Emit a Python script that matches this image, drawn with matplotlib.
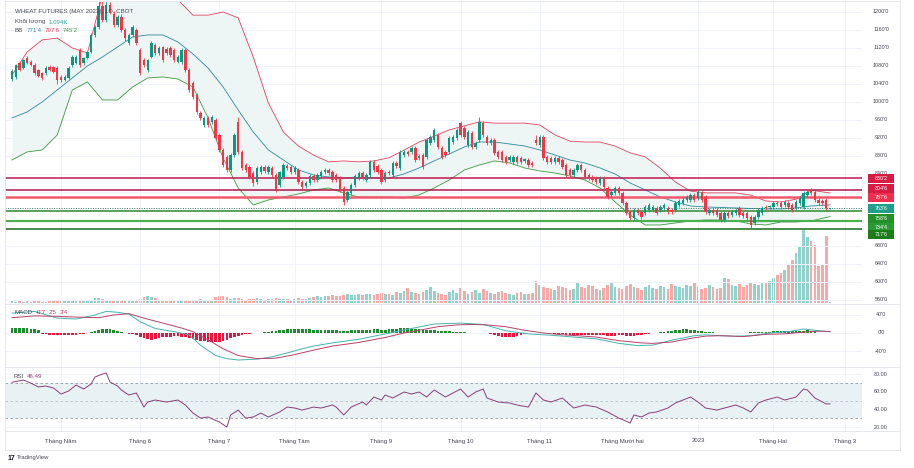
import numpy as np
import matplotlib
matplotlib.use("Agg")
import matplotlib.pyplot as plt
from matplotlib.patches import Rectangle
from matplotlib.lines import Line2D
import matplotlib.transforms as mtransforms

# ---------------- data ----------------
opens = [1051,1056,1087,1076,1098,1089,1082,1071,1064,1064,
         1078,1078,1076,1056,1049,1053,1082,1087,1116,1087,
         1098,1111,1149,1167,1213,1182,1216,1196,1171,1189,
         1160,1131,1149,1160,1116,1093,1071,1100,1127,1109,
         1122,1118,1120,1116,1089,1089,1116,1071,1042,1016,
         976,949,964,956,960,927,893,878,849,882,
         956,889,860,856,842,822,844,856,844,853,
         838,816,833,858,856,844,849,822,813,820,
         836,827,836,844,849,844,838,831,809,782,
         798,816,831,842,827,838,867,858,849,827,
         844,838,864,853,882,889,889,898,876,882,
         878,909,916,927,898,889,889,911,920,953,
         942,904,931,900,916,953,922,909,916,889,
         889,878,871,867,878,876,869,871,864,916,
         904,922,878,876,867,876,871,860,849,838,
         849,860,849,838,833,831,820,831,809,793,
         798,809,798,776,756,742,760,756,753,760,
         760,764,760,764,764,760,760,771,776,782,
         782,793,787,798,789,753,760,760,753,738,
         753,749,753,764,753,753,744,731,744,753,
         767,767,767,776,776,771,776,771,764,776,
         767,793,804,800,782,780,782,763.25]
highs = [1073,1085,1090,1096,1102,1093,1086,1074,1067,1079,
         1082,1081,1079,1060,1060,1079,1104,1104,1120,1100,
         1114,1153,1171,1228,1224,1232,1222,1202,1193,1195,
         1164,1153,1172,1164,1120,1097,1096,1136,1131,1124,
         1125,1122,1124,1119,1104,1119,1120,1075,1046,1020,
         980,968,968,970,964,931,897,882,886,931,
         967,893,864,860,846,857,860,860,860,857,
         842,847,864,862,860,857,853,826,824,840,
         840,842,848,853,853,848,842,835,813,804,
         820,840,846,846,842,871,871,862,853,846,
         848,868,868,893,893,893,902,902,884,886,
         920,926,942,931,902,893,924,926,942,958,
         946,937,935,913,967,957,926,920,920,893,
         893,882,882,882,882,880,876,875,868,927,
         926,926,882,880,880,880,875,864,853,853,
         864,864,853,842,837,835,835,835,813,804,
         813,813,802,780,760,764,764,760,771,775,
         771,768,771,775,768,764,780,784,786,793,
         797,797,804,802,793,764,764,764,757,757,
         757,760,764,768,757,757,748,748,764,768,
         771,772,780,780,780,782,780,775,782,791,
         802,806,808,804,786,784,786,765]
lows = [1046,1052,1068,1073,1084,1079,1060,1055,1049,1060,
        1068,1064,1040,1044,1046,1051,1078,1084,1078,1082,
        1095,1108,1145,1162,1178,1178,1195,1166,1167,1155,
        1136,1126,1145,1127,1060,1078,1066,1097,1104,1105,
        1089,1105,1100,1088,1086,1085,1067,1022,1006,974,
        960,945,945,952,916,889,856,845,845,878,
        885,849,845,829,813,818,840,843,840,834,
        800,812,829,849,840,840,818,807,809,816,
        823,823,832,840,838,823,823,800,771,778,
        794,812,827,827,823,834,845,840,818,823,
        838,834,853,849,878,880,885,867,872,852,
        874,905,912,896,874,878,885,907,916,923,
        918,900,896,896,912,923,905,905,883,874,
        867,863,867,863,863,863,865,856,856,905,
        900,872,863,863,863,863,852,834,834,834,
        845,845,829,827,823,818,816,807,785,789,
        794,794,772,749,738,738,749,740,749,756,
        756,749,756,760,752,752,756,767,772,778,
        778,778,783,778,752,749,749,745,734,734,
        743,745,749,745,743,738,720,727,740,749,
        760,763,763,769,763,767,763,756,760,772,
        763,789,793,778,772,772,760,762]
closes = [1069,1082,1071,1093,1087,1082,1064,1058,1053,1076,
          1071,1067,1049,1049,1056,1076,1100,1100,1082,1098,
          1111,1149,1167,1213,1182,1216,1200,1171,1189,1160,
          1142,1149,1167,1131,1064,1082,1093,1131,1109,1120,
          1093,1109,1104,1093,1100,1116,1071,1027,1011,978,
          964,964,949,967,920,893,860,849,882,927,
          889,853,849,833,820,853,856,847,856,838,
          804,844,860,853,844,853,822,811,820,836,
          827,838,844,849,842,827,827,804,778,800,
          816,836,842,831,838,867,849,844,822,842,
          842,864,858,889,889,884,898,871,880,856,
          916,922,938,900,878,882,920,922,938,927,
          922,933,900,909,956,927,909,916,887,878,
          871,867,878,878,867,867,873,860,860,909,
          922,876,867,867,876,867,856,838,838,849,
          860,849,833,831,827,822,831,811,789,800,
          809,798,776,753,742,760,753,744,767,771,
          767,753,767,771,756,756,776,780,782,789,
          793,782,800,782,756,760,753,749,738,753,
          747,756,760,749,747,742,727,744,760,764,
          764,769,776,773,767,778,767,760,778,787,
          798,800,798,782,776,776,763.5,763.75]
volumes_k = [2.5,2,3,2,2.5,2,3,2.5,2,2,3,
             3.5,4.5,3,3,3.5,4,3,5,3.5,4,5,
             7,8,6,
             4,5,4.5,3.5,4,5,4,3.5,5,6,
             9,10.5,9,8,
             4,5,3.5,4,3,4,3.5,4.5,5,4,5,6,4,3.5,5,
             9,10.5,10.5,9,
             6,7,7.5,6,5,5.5,6,7,6,5,6,6.5,7,6,5.5,6,5,6.5,7.5,6,6.5,
             8,9,10.5,9,10,11,12,10.5,11,12,
             13,12,12.5,13.5,12,13,14,12,13.5,15,13,14,12,
             16.5,15,18,22.5,17,15,13.5,16,19.5,24,18,15,13.5,12,16.5,19.5,15,22.5,
             18,14,16.5,19.5,15,21,18,15,13.5,16.5,18,15,13.5,12,15,16.5,13.5,14,
             15,33,27,24,22.5,21,19.5,25.5,24,22.5,19.5,21,
             30,24,22.5,27,25.5,21,19.5,22.5,27,30,24,22.5,21,25.5,28.5,24,22.5,19.5,24,
             27,22.5,21,25.5,24,21,28.5,25.5,24,22.5,27,25.5,30,24,21,22.5,27,24,21,
             22.5,37.5,36,27,25.5,28.5,24,27,30,28.5,27,30,
             30,33,37.5,42,45,49.5,57,64.5,75,85.5,109.5,99,93,87,55.5,57,100.5,1.094]

# Bollinger Bands (20, 2)
bb_idx = [0,4,8,12,16,20,24,28,32,36,40,44,48,52,56,60,64,68,72,76,80,84,88,92,96,100,
          104,108,112,116,120,124,128,132,136,140,144,148,152,156,160,164,168,172,176,180,
          184,188,192,196,200,204,208,212,217]
bb_upper = [1060,1111,1138,1142,1120,1109,1238,1316,1338,1327,1293,1227,1193,1193,1200,1187,1100,998,
            933,902,882,867,869,867,869,876,893,911,924,938,947,956,953,953,953,949,927,913,911,911,
            902,887,878,853,822,802,798,798,798,793,780,778,784,804,797.75]
bb_basis = [964.5,977.8,1000,1026.7,1053.4,1080,1100,1122.3,1144.5,1149,1149,1133.4,1106.7,1075.6,
            1033.4,982.3,933.4,893.4,871.1,848.9,837.8,833.4,831.2,831.2,831.2,831.2,840,853.4,869,
            884.5,900,911.1,911.1,906.7,902.2,893.4,882.3,871.1,864.5,853.4,840,820,804.5,788.9,
            777.8,768.9,766.7,765.6,764.5,763.4,762.3,762.3,764.5,768.9,771.25]
bb_lower = [871.1,889,893.4,926.7,1026.7,1044.5,1004.5,1004.5,1033.4,1053.4,1055.6,1051.1,1033.4,
            964.5,875.6,808.9,771.1,782.3,788.9,795.6,804.5,808.9,797.8,788.9,788.9,788.9,786.7,
            793.4,808.9,826.7,848.9,860,869,864.5,853.4,846.7,842.3,835.6,826.7,808.9,777.8,748.9,
            726.7,726.7,731.2,735.6,737.8,737.8,735.6,729,726.7,733.4,733.4,735.6,745.25]

# horizontal levels drawn on the chart
levels_red = [830.25, 804.75, 787.75]
levels_green = [758.75, 734.5, 717.75]
last_price = 763.75
level_labels = ["830'2", "804'6", "787'6", "763'6", "758'6", "734'4", "717'6"]
level_values = [830.25, 804.75, 787.75, 763.75, 758.75, 734.5, 717.75]

# MACD (12, 26, 9)
macd_idx = [0,6,12,17,22,25,28,31,34,38,43,47,50,54,57,60,65,69,74,77,80,85,92,99,106,112,119,
            125,131,137,143,149,155,161,166,170,175,181,184,188,192,196,201,206,210,213,217]
macd_val = [44,48,33,31,40,48,46,42,25,10,3,-4,-27,-50,-57,-60,-58,-53,-42,-35,-29,-22,-14,-2,10,
            20,22,19,5,-2,-5,-9,-13,-23,-28,-27,-16,-6,-4,-6,-7,-6,0,3,9,6,2.625]
sig_idx = [0,6,12,18,23,27,31,35,40,45,48,52,56,60,65,70,75,79,85,92,99,104,108,113,118,122,126,
           131,136,141,146,150,155,161,167,170,175,180,184,188,194,200,205,210,214,217]
sig_val = [34,38,37,35,34,40,43,33,22,11,3,-15,-35,-50,-57,-56,-48,-40,-29,-21,-10,0,6,14,18,19,
           18,14,6,0,-4,-6,-9,-17,-22,-23,-20,-12,-7,-6,-8,-3,-2,2,4,3.5]
macd_hist = [10,11,11,10,10,9,8,7,
             -2,-3,-4,-4,-5,-5,-5,-5,-4,-4,-3,-2,-1,
             2,4,6,8,9,8,6,4,2,
             -1,-2,-3,-5,
             -8,-11,-13,-15,-14,-12,
             -10,-9,-8,-7,-7,-8,-9,
             -11,-13,-15,-17,-18,-19,-20,-21,-20,-18,-15,-12,
             -9,-7,-5,-3,-2,-1,0,
             1,2,3,4,5,6,7,8,8,8,9,
             9,8,8,7,7,6,6,7,7,6,5,4,5,6,7,7,7,6,7,8,8,7,7,8,8,9,10,10,10,9,8,8,7,7,
             6,6,5,5,4,4,3,3,2,2,
             1,1,0,1,0,-1,
             -2,-4,-6,-8,-9,-9,-8,-6,-4,-3,-1,
             0,1,1,0,-1,-1,
             -2,-3,-3,-4,-4,-4,-5,-5,-4,-4,-4,-5,-5,-5,-6,-6,-6,-5,-5,-6,-6,-6,-5,-4,-3,-2,-1,
             1,2,3,4,5,6,7,8,8,7,6,
             5,4,3,2,2,1,1,
             0,-1,-1,0,0,
             1,1,2,2,2,3,
             3,3,4,4,4,5,5,5,4,4,5,6,5,4,
             -1,-1,-1,-0.875]

# RSI (14)
rsi_idx = [0,3,5,7,9,11,13,15,17,19,21,22,24,25,26,28,29,31,33,35,36,38,41,44,46,48,50,52,55,57,
           58,60,62,64,66,68,71,73,75,77,80,82,85,86,88,90,93,94,96,98,99,101,104,106,108,110,112,
           115,117,119,121,123,125,126,129,132,134,137,139,141,143,146,149,152,155,158,161,164,165,
           167,169,171,174,176,178,180,182,184,187,190,192,194,196,198,200,203,205,208,210,211,213,
           216,217]
rsi_val = [71,73.5,70,65.6,66.7,64.4,57.6,61,67.8,63.3,69,76.9,80.3,81.5,71.3,66.7,62.2,56.5,58.8,
           42.8,48.5,50.8,48.5,50.8,45.1,36,30.3,31.5,25.8,20.1,33.8,39.4,30.3,31.5,36,31.5,37.2,
           42.8,41.7,39.4,42.8,41.7,45.1,42.8,33.8,42.8,48.5,45.1,54.2,50.8,56.5,53.1,59.9,57.6,59.9,
           54.2,62.2,54.2,58.8,63.3,54.2,59.9,63.3,53.1,48.5,47.4,45.1,42.8,58.8,50.8,48.5,53.1,41.7,
           45.1,42.8,37.2,30.3,24.7,33.8,31.5,36,37.2,41.7,47.4,50.8,54.2,48.5,41.7,39.4,42.8,45.1,
           41.7,37.2,47.4,50.8,54.2,50.8,54.2,63.3,62.2,53.1,46.3,46.49]

# time axis
month_pos = [13, 34, 55, 75, 98, 119, 140, 162, 182, 202, 221]
month_labels = ["Tháng Năm", "Tháng 6", "Tháng 7", "Tháng Tám", "Tháng 9", "Tháng 10",
                "Tháng 11", "Tháng Mười hai", "2023", "Tháng Hai", "Tháng 3"]
price_ticks = list(range(560, 1201, 40))
macd_ticks = [40, 0, -40]
rsi_ticks = [80, 60, 40, 20]

# ---------------- style ----------------
W, H, DPI = 914, 468, 100
plt.rcParams['font.family'] = ['Liberation Sans', 'DejaVu Sans']
UP, DN = '#089981', '#f23645'
VUP, VDN = '#92d2cc', '#f7a9a7'
TXT = '#434651'
GRID = '#f0f3fa'
BORDER = '#e0e3eb'
AX_FS = 3.9
LEG_FS = 4.4

fig = plt.figure(figsize=(W / DPI, H / DPI), dpi=DPI)
fig.patch.set_facecolor('white')


def axes_px(x0, y0, x1, y1):
    return fig.add_axes([x0 / W, 1 - y1 / H, (x1 - x0) / W, (y1 - y0) / H])


PL, PR = 5, 862
ax_p = axes_px(PL, 2, PR, 303)
ax_m = axes_px(PL, 304, PR, 366)
ax_r = axes_px(PL, 367, PR, 431)

n = len(closes)
idx = np.arange(n)
o = np.array(opens, float); h = np.array(highs, float)
l = np.array(lows, float); c = np.array(closes, float)
XL = (-1.86, 225.5)

for ax in (ax_p, ax_m, ax_r):
    ax.set_xlim(*XL)
    for s in ax.spines.values():
        s.set_visible(False)
    ax.set_xticks([]); ax.set_yticks([])
    ax.patch.set_visible(False)
    for mp in month_pos:
        ax.axvline(mp, color=GRID, lw=0.7, zorder=0)

# ---- price pane ----
ax_p.set_ylim(553.3, 1222.2)
for pt in price_ticks:
    ax_p.axhline(pt, color=GRID, lw=0.7, zorder=0)

# volume on a twin axis underneath
ax_v = ax_p.twinx()
ax_v.set_zorder(ax_p.get_zorder() - 1)
ax_v.patch.set_visible(False)
ax_v.set_ylim(0, 452)
ax_v.set_xlim(*XL)
ax_v.set_yticks([])
for s in ax_v.spines.values():
    s.set_visible(False)
vcol = [VUP if cc >= oo else VDN for oo, cc in zip(o, c)]
ax_v.bar(idx, volumes_k, width=0.72, color=vcol, linewidth=0)

# Bollinger bands
ax_p.fill_between(bb_idx, bb_lower, bb_upper, color='#edf5f5', lw=0, zorder=1)
ax_p.plot(bb_idx, bb_upper, color='#e0405e', lw=0.6, zorder=2)
ax_p.plot(bb_idx, bb_basis, color='#2e8a9c', lw=0.6, zorder=2)
ax_p.plot(bb_idx, bb_lower, color='#3f9a3f', lw=0.6, zorder=2)

# level lines
ax_p.axhline(levels_red[0], color='#c2184f', lw=1.1, zorder=2.5)
ax_p.axhline(levels_red[1], color='#b0164a', lw=1.1, zorder=2.5)
ax_p.axhline(levels_red[2], color='#f2596c', lw=1.8, zorder=2.5)
ax_p.axhline(levels_green[0], color='#2e8b2e', lw=1.1, zorder=2.5)
ax_p.axhline(levels_green[1], color='#4caf50', lw=1.6, zorder=2.5)
ax_p.axhline(levels_green[2], color='#1b6b1b', lw=1.1, zorder=2.5)
ax_p.axhline(last_price, color='#2f6f68', lw=0.7, ls=(0, (1, 1.5)), zorder=2.5)

# candles
ccol = np.where(c >= o, UP, DN)
ax_p.vlines(idx, l, h, colors=ccol, lw=0.6, zorder=3)
body_lo = np.minimum(o, c)
body_h = np.maximum(np.abs(c - o), 1.0)
ax_p.bar(idx, body_h, bottom=body_lo, width=0.64, color=ccol, linewidth=0, zorder=4)

# price axis labels
LBLX = (881 - PL) / (PR - PL)
yt = ax_p.get_yaxis_transform()
for pt in price_ticks:
    ax_p.text(LBLX, pt, f"{pt}'0", transform=yt, ha='center', va='center',
              fontsize=AX_FS, color=TXT, clip_on=False, zorder=5)

# level label boxes
box_cols = ['#d81b43', '#d81b43', '#ee2f4d', '#1f9e89', '#23902a', '#2a9a34', '#1a7d1a']
shift_px = [0, 1.5, 0, 0, -7.6, -6.2, -5.2]
BX0 = (868 - PL) / (PR - PL)
BXW = 26 / (PR - PL)
box_h = 9.2 / 0.45
for val, lab, colr, sh in zip(level_values, level_labels, box_cols, shift_px):
    tr = yt + mtransforms.ScaledTranslation(0, sh / DPI, fig.dpi_scale_trans)
    ax_p.add_patch(Rectangle((BX0, val - box_h / 2), BXW, box_h, transform=tr,
                             facecolor=colr, edgecolor='none', clip_on=False, zorder=10))
    ax_p.text(BX0 + BXW / 2, val, lab, transform=tr, ha='center', va='center',
              fontsize=AX_FS, color='white', clip_on=False, zorder=11)

# ---- MACD pane ----
ax_m.set_ylim(-73.3, 64.4)
for mt in macd_ticks:
    ax_m.axhline(mt, color=GRID, lw=0.7, zorder=0)
hcol = ['#1f8b2e' if v >= 0 else '#e3173f' for v in macd_hist]
ax_m.bar(idx, macd_hist, width=0.72, color=hcol, linewidth=0, zorder=2)
ax_m.plot(macd_idx, macd_val, color='#45b3b0', lw=0.7, zorder=3)
ax_m.plot(sig_idx, sig_val, color='#b8406a', lw=0.7, zorder=3)
ytm = ax_m.get_yaxis_transform()
for mt in macd_ticks:
    ax_m.text(LBLX, mt, f"{mt}'0", transform=ytm, ha='center', va='center',
              fontsize=AX_FS, color=TXT, clip_on=False)

# ---- RSI pane ----
ax_r.set_ylim(15.6, 88.3)
for rt in rsi_ticks:
    ax_r.axhline(rt, color=GRID, lw=0.7, zorder=0)
ax_r.axhspan(30, 70, color='#e8f1f4', lw=0, zorder=1)
for lv, a in ((70, 1.0), (50, 0.6), (30, 1.0)):
    ax_r.axhline(lv, color='#9598a1', lw=0.6, ls=(0, (3, 3)), alpha=a, zorder=2)
ax_r.plot(rsi_idx, rsi_val, color='#8a3f76', lw=0.7, zorder=3)
ytr = ax_r.get_yaxis_transform()
for rt in rsi_ticks:
    ax_r.text(LBLX, rt, f"{rt:.2f}", transform=ytr, ha='center', va='center',
              fontsize=AX_FS, color=TXT, clip_on=False)

# time axis labels
xtr = ax_r.get_xaxis_transform()
for mp, ml in zip(month_pos, month_labels):
    ax_r.text(mp, -10 / 64, ml, transform=xtr, ha='center', va='center',
              fontsize=4.3, color=TXT, clip_on=False)

# ---- frame / separators ----
def hline_px(y, x0=PL, x1=900, color=BORDER, lw=0.6):
    fig.add_artist(Line2D([x0 / W, x1 / W], [1 - y / H, 1 - y / H], color=color, lw=lw,
                          transform=fig.transFigure))

def vline_px(x, y0, y1, color=BORDER, lw=0.6):
    fig.add_artist(Line2D([x / W, x / W], [1 - y0 / H, 1 - y1 / H], color=color, lw=lw,
                          transform=fig.transFigure))

hline_px(1)
hline_px(303.5)
hline_px(366.5)
hline_px(431)
hline_px(450)
vline_px(PL, 1, 450)
vline_px(900, 1, 450)

# ---- legends ----
renderer = fig.canvas.get_renderer()

def legend_row(x_px, y_px, parts, size=LEG_FS, gap=3.0):
    x = x_px
    for txt, col in parts:
        t = fig.text(x / W, 1 - y_px / H, txt, color=col, fontsize=size, ha='left', va='center')
        x += t.get_window_extent(renderer=renderer).width + gap

legend_row(15, 12, [("WHEAT FUTURES (MAY 2023), 1D, CBOT", TXT)])
legend_row(15, 22, [("Khối lượng", TXT), ("1.094K", '#26a69a')])
legend_row(15, 31, [("BB", TXT), ("771'4", '#2e8a9c'), ("797'6", '#e0405e'), ("745'2", '#3f9a3f')])
legend_row(15, 313, [("MACD", TXT), ("-0'7", '#e3173f'), ("2'5", '#b8406a'), ("3'4", '#b8406a')])
legend_row(14, 376, [("RSI", TXT), ("46.49", '#8a3f76')])

# footer
fig.text(8 / W, 1 - 458 / H, "17", fontsize=5, fontweight='bold', color='#131722',
         ha='left', va='center')
fig.text(17 / W, 1 - 458 / H, "TradingView", fontsize=4.2, color=TXT, ha='left', va='center')

fig.savefig("out.png", dpi=DPI, facecolor='white')
